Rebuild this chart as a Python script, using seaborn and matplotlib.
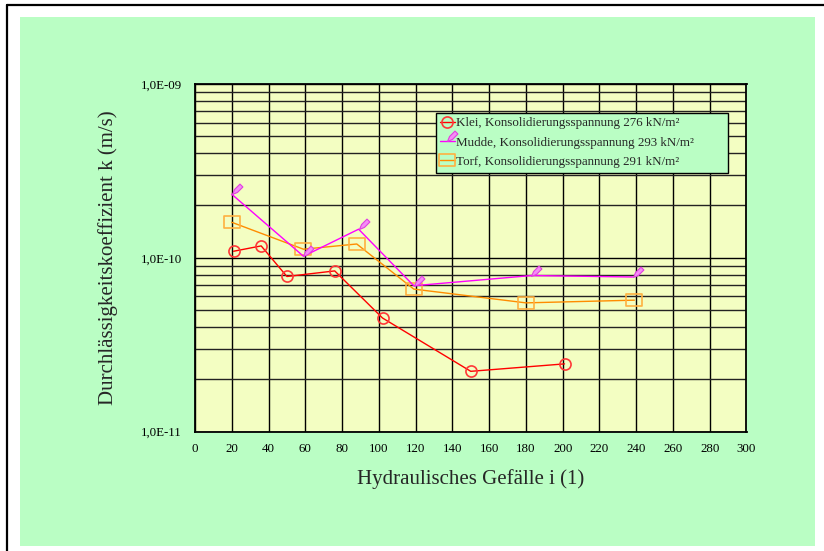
import numpy as np
import pandas as pd
import matplotlib
matplotlib.use("Agg")
import matplotlib.pyplot as plt
from matplotlib.path import Path
from matplotlib.lines import Line2D
from matplotlib.patches import Rectangle
import matplotlib.ticker as mticker
import seaborn as sns

# ---- data ----
klei_i = [21, 36, 50, 76, 102, 150, 201]
klei_k = [1.09e-10, 1.17e-10, 7.8e-11, 8.4e-11, 4.5e-11, 2.22e-11, 2.45e-11]
mudde_i = [20, 59, 89, 119, 183, 238]
mudde_k = [2.32e-10, 1.02e-10, 1.46e-10, 6.9e-11, 7.9e-11, 7.75e-11]
torf_i = [20, 59, 88, 119, 180, 239]
torf_k = [1.6e-10, 1.12e-10, 1.2e-10, 6.6e-11, 5.5e-11, 5.7e-11]
labels = ["Klei, Konsolidierungsspannung 276 kN/m²",
          "Mudde, Konsolidierungsspannung 293 kN/m²",
          "Torf, Konsolidierungsspannung 291 kN/m²"]
x_ticks = list(range(0, 301, 20))
y_ticks = [1e-11, 1e-10, 1e-9]
y_ticklabels = ["1,0E-11", "1,0E-10", "1,0E-09"]

sns.set_style("white")
plt.rcParams['font.family'] = ['Liberation Serif', 'DejaVu Serif']
plt.rcParams['mathtext.fontset'] = 'stix'

W, H = 824, 551
fig = plt.figure(figsize=(W / 100, H / 100), dpi=100)
fig.patch.set_facecolor("white")

# green panel
fig.patches.append(Rectangle((20 / W, 1 - 546 / H), (815 - 20) / W, (546 - 17) / H,
                             transform=fig.transFigure, facecolor="#BAFEC4",
                             edgecolor="none", zorder=-5))
# outer border (top and left visible)
fig.lines.append(Line2D([7 / W, 1.0], [1 - 5 / H, 1 - 5 / H], transform=fig.transFigure,
                        color="black", lw=1.6, zorder=-4))
fig.lines.append(Line2D([7 / W, 7 / W], [0, 1 - 5 / H], transform=fig.transFigure,
                        color="black", lw=1.6, zorder=-4))

ax = fig.add_axes([195 / W, 1 - 431.5 / H, (746.5 - 195) / W, (431.5 - 84) / H])
ax.set_zorder(2)
ax.set_facecolor("#F3FEC2")

# markers
pencil = Path([(0, 0), (0.25, 0.6), (0.9, 1.25), (1.25, 0.9), (0.6, 0.25), (0, 0)],
              [Path.MOVETO, Path.LINETO, Path.LINETO, Path.LINETO, Path.LINETO, Path.CLOSEPOLY])
box = Path([(-1, -0.68), (1, -0.68), (1, 0.68), (-1, 0.68), (-1, -0.68)],
           [Path.MOVETO, Path.LINETO, Path.LINETO, Path.LINETO, Path.CLOSEPOLY])

df_k = pd.DataFrame({"i": klei_i, "k": klei_k})
df_m = pd.DataFrame({"i": mudde_i, "k": mudde_k})
df_t = pd.DataFrame({"i": torf_i, "k": torf_k})

sns.lineplot(data=df_k, x="i", y="k", ax=ax, color="#FF0000", lw=1.0, marker="o",
             markersize=8, markerfacecolor="none", markeredgecolor="#FF3838",
             markeredgewidth=1.2, label=labels[0], zorder=4)
sns.lineplot(data=df_m, x="i", y="k", ax=ax, color="#FF00FF", lw=1.0, marker=pencil,
             markersize=15, markerfacecolor="#F58CF5", markeredgecolor="#E040E0",
             markeredgewidth=0.8, label=labels[1], zorder=4)
sns.lineplot(data=df_t, x="i", y="k", ax=ax, color="#FF8C00", lw=1.0, marker=box,
             markersize=12, markerfacecolor="none", markeredgecolor="#FFB040",
             markeredgewidth=1.2, label=labels[2], zorder=3)

ax.set_yscale("log")
ax.set_xlim(0, 300)
ax.set_ylim(1e-11, 1e-9)
ax.set_xticks(x_ticks)
ax.set_xticklabels([str(v) for v in x_ticks])
ax.yaxis.set_major_locator(mticker.FixedLocator(y_ticks))
ax.yaxis.set_major_formatter(mticker.FixedFormatter(y_ticklabels))
ax.yaxis.set_minor_locator(mticker.LogLocator(base=10, subs=np.arange(2, 10)))
ax.yaxis.set_minor_formatter(mticker.NullFormatter())

ax.grid(True, which="major", axis="both", color="black", lw=1.0, zorder=1)
ax.grid(True, which="minor", axis="y", color="#222222", lw=1.0, zorder=1)
ax.set_axisbelow(True)
ax.tick_params(axis="both", which="both", length=0, labelsize=9.3, colors="black")
ax.tick_params(axis="y", pad=9.5)
ax.tick_params(axis="x", pad=8.5)
for s in ax.spines.values():
    s.set_color("black")
    s.set_linewidth(1.3)
    s.set_visible(True)

ax.set_xlabel("Hydraulisches Gefälle i (1)", fontsize=15, labelpad=10)
ax.set_ylabel("Durchlässigkeitskoeffizient k (m/s)", fontsize=15, labelpad=16)

lx0 = (435.7 - 195) / 551.5
ltop = (431.5 - 112.7) / 347.5
lw_ = (728.3 - 435.7) / 551.5
leg = ax.legend(loc="upper left", bbox_to_anchor=(lx0, ltop, lw_, 0), mode="expand",
                borderaxespad=0, fontsize=9.4, frameon=True, fancybox=False,
                facecolor="#BAFEC4", edgecolor="black", framealpha=1,
                handlelength=1.1, handletextpad=0.1, borderpad=0.35, labelspacing=0.55)
leg.get_frame().set_linewidth(1.0)
leg.set_zorder(10)

fig.savefig("out.png", dpi=100)
